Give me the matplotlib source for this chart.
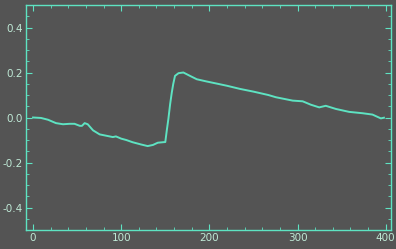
import numpy as np
import matplotlib
matplotlib.use('Agg')
import matplotlib.pyplot as plt
from matplotlib.ticker import MultipleLocator

# values
xs = [0, 9, 17, 26, 34, 41.5, 47, 53, 55.5, 58.5, 62, 68, 75.5, 83, 90.5, 94,
      100, 105.7, 113, 122.6, 130, 136, 141.5, 147, 150, 151.7, 153.5, 155.5,
      157.4, 159, 161, 165, 170.5, 178, 185.7, 197, 208, 220, 234.8, 250,
      266.8, 275.5, 294.5, 305.8, 315, 324.6, 332, 343.5, 358.5, 373.7, 385,
      394.5, 398]
ys = [0.0, -0.002, -0.01, -0.025, -0.03, -0.028, -0.028, -0.037, -0.037,
      -0.025, -0.03, -0.057, -0.075, -0.081, -0.087, -0.084, -0.094, -0.10,
      -0.11, -0.12, -0.127, -0.122, -0.112, -0.11, -0.109, -0.057, -0.006,
      0.06, 0.112, 0.149, 0.185, 0.197, 0.20, 0.185, 0.17, 0.16, 0.151, 0.141,
      0.127, 0.115, 0.10, 0.09, 0.075, 0.072, 0.057, 0.045, 0.052, 0.038,
      0.025, 0.019, 0.013, -0.004, -0.001]

bg = '#545454'
fg = '#5ee3c2'
txt = '#bfe9d6'

fig = plt.figure(figsize=(3.96, 2.49), dpi=100, facecolor=bg)
ax = fig.add_axes([26/396, 1 - 230/249, 365/396, 225/249])
ax.set_facecolor(bg)
ax.plot(xs, ys, color=fg, lw=1.4)
ax.set_xlim(-8, 406)
ax.set_ylim(-0.5, 0.5)
ax.xaxis.set_major_locator(MultipleLocator(100))
ax.xaxis.set_minor_locator(MultipleLocator(20))
ax.yaxis.set_major_locator(MultipleLocator(0.2))
ax.yaxis.set_minor_locator(MultipleLocator(0.05))
ax.yaxis.set_major_formatter(lambda v, p: f'{v:.1f}')
for s in ax.spines.values():
    s.set_color(fg)
    s.set_linewidth(1.0)
ax.tick_params(which='both', direction='in', top=True, right=True,
               color=fg, labelcolor=txt, labelsize=7.5, pad=2)
ax.tick_params(which='major', length=4, width=0.8)
ax.tick_params(which='minor', length=2, width=0.6)
fig.savefig('out.png', dpi=100, facecolor=bg)
